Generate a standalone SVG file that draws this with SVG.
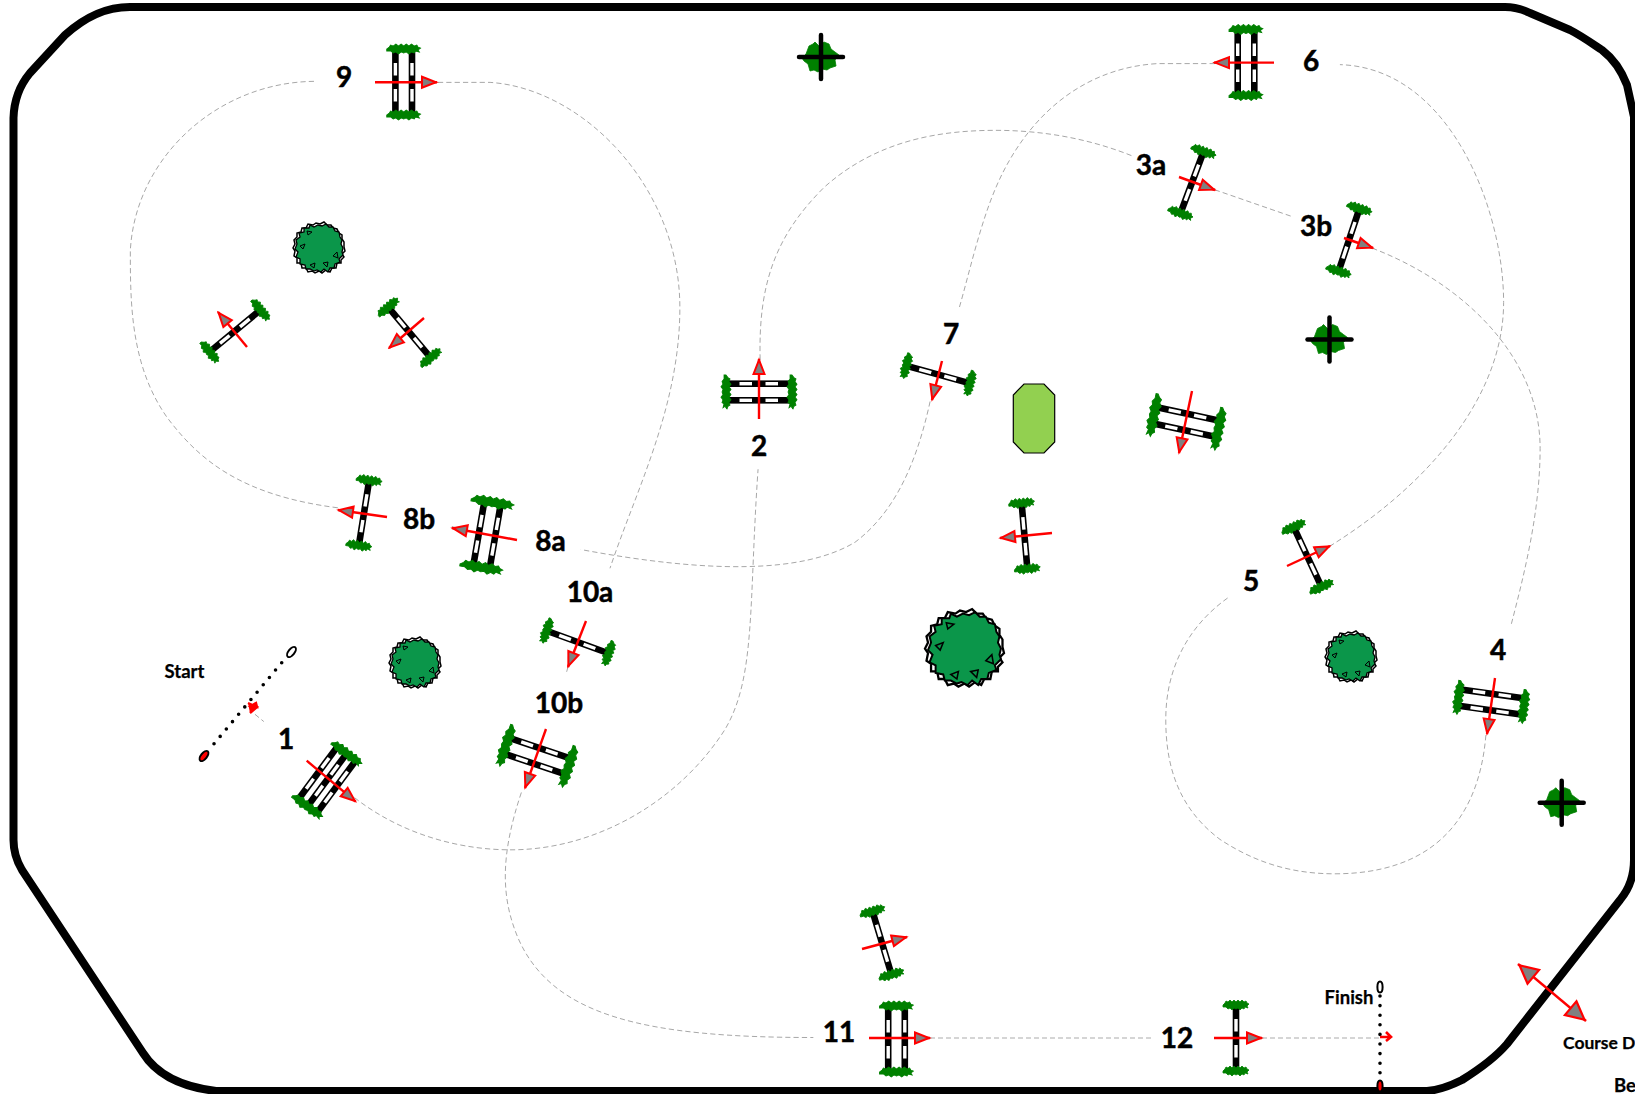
<svg xmlns="http://www.w3.org/2000/svg" width="1635" height="1094" viewBox="0 0 1635 1094">
<style>
.lbl{font-family:"Lato","Carlito","Liberation Sans",sans-serif;font-weight:700;font-size:28px;fill:#000;stroke:#000;stroke-width:.5;text-anchor:middle}
.sm{font-family:"Lato","Carlito","Liberation Sans",sans-serif;font-weight:700;fill:#000;stroke:#000;stroke-width:.25;font-size:18.5px}
.con{fill:none;stroke:#a6a6a6;stroke-width:.95;stroke-dasharray:5 3}
.arw{stroke:#f00;stroke-width:2.4;fill:none;marker-end:url(#ah)}
.dots{stroke:#000;stroke-width:3.6;stroke-linecap:round;stroke-dasharray:0 9.6;fill:none}
.grn{fill:#008000;stroke:#008000;stroke-width:.8}
.crs{stroke:#000;stroke-width:4.5;stroke-linecap:round}
</style>
<defs>
<marker id="ah" viewBox="-18 -8 20 16" refX="0" refY="0" markerWidth="20" markerHeight="16" markerUnits="userSpaceOnUse" orient="auto"><path d="M-15,-5.5 L-1,0 L-15,5.5Z" fill="#808080" stroke="#f00" stroke-width="2"/></marker>
<marker id="ahB" viewBox="-26 -12 28 24" refX="0" refY="0" markerWidth="28" markerHeight="24" markerUnits="userSpaceOnUse" orient="auto-start-reverse"><path d="M-20,-9 L-2,0 L-20,9Z" fill="#808080" stroke="#f00" stroke-width="2.2"/></marker>
<path id="blob" class="grn" d="M-13,0 L-11,-2 -10,-4 -8,-3 -6,-5 -4,-3 -2,-5 0,-3 2,-5 4,-3 6,-5 8,-3 10,-4 11,-2 13,-1 11,1 12,3 9,2 8,4 6,3 4,5 2,3 0,4 -2,3 -4,5 -6,3 -8,4 -10,2 -13,2Z"/>
<g id="rail"><rect x="-3.3" y="-31.5" width="6.6" height="63"/><rect x="-1.7" y="-19" width="3.4" height="12.5" fill="#fff"/><rect x="-1.7" y="7" width="3.4" height="12.5" fill="#fff"/></g>
<g id="single"><use href="#rail"/><use href="#blob" y="-33"/><use href="#blob" y="33"/></g>
<g id="double"><use href="#rail" x="-8.3"/><use href="#rail" x="8.3"/><use href="#blob" transform="translate(0,-33) scale(1.3,1)"/><use href="#blob" transform="translate(0,33) scale(1.3,1)"/></g>
<g id="doubleW"><use href="#rail" x="-8.3"/><use href="#rail" x="8.3"/><use href="#blob" transform="translate(0,-33) scale(1.65,1.1)"/><use href="#blob" transform="translate(0,33) scale(1.65,1.1)"/></g>
<g id="triple"><use href="#rail" x="-11.5"/><use href="#rail"/><use href="#rail" x="11.5"/><use href="#blob" transform="translate(0,-33) scale(1.4,1)"/><use href="#blob" transform="translate(0,33) scale(1.4,1)"/></g>
<g id="tree"><path d="M25,-1 L26,3 23,6 25,9 22,12 22,15 18,15 17,20 13,20 11,24 7,22 3,25 0,23 -4,25 -7,23 -11,24 -13,20 -17,20 -18,15 -22,15 -22,10 -25,8 -24,3 -26,0 -24,-4 -25,-8 -22,-11 -22,-15 -18,-16 -17,-20 -13,-20 -11,-24 -6,-23 -3,-25 1,-24 5,-26 8,-23 12,-23 14,-20 18,-19 20,-15 23,-13 23,-9 25,-6Z" fill="#fff" stroke="#000" stroke-width="1.5" stroke-linejoin="miter"/><path d="M24,0 L23,4 24,7 20,11 21,14 16,16 15,20 11,20 9,24 5,21 2,24 -2,22 -5,23 -9,21 -13,21 -14,17 -19,16 -19,11 -23,9 -21,4 -24,1 -22,-4 -23,-8 -19,-11 -20,-15 -15,-16 -15,-20 -10,-20 -9,-23 -5,-21 -1,-23 3,-22 7,-24 10,-21 14,-21 16,-17 20,-16 21,-11 23,-8 22,-4Z" fill="#0b964a" stroke="#000" stroke-width="1.3" stroke-linejoin="miter"/><path d="M-19,-2 L-14,-4 -16,1Z M14,8 L18,4 19,10Z M-9,17 L-4,15 -5,20Z M4,15 L9,14 8,19Z M-12,-17 L-7,-16 -11,-13Z" fill="#0b964a" stroke="#000" stroke-width="1"/></g>
<g id="cross"><path class="grn" d="M-19,1 L-15,-3 -12,-11 -8,-13 -6,-15 -2,-11 3,-15 8,-13 10,-8 14,-5 18,-2 14,3 15,9 9,11 6,13 1,12 -3,15 -7,13 -11,14 -13,7 -17,4Z"/><line class="crs" x1="-22" y1="0" x2="22" y2="0"/><line class="crs" x1="0" y1="-22" x2="0" y2="22"/></g>
</defs>
<rect width="1635" height="1094" fill="#fff"/>
<path id="arena" fill="none" stroke="#000" stroke-width="8" stroke-linejoin="round" d="M13.5,840 L13.5,118 C14,100 20,85 30,73 L65,35 C85,17 105,7 130,7 L1505,7 C1515,7 1522,9 1530,13 L1570,30 C1580,35 1590,42 1602,50 C1615,60 1622,72 1627,85 L1634,117 L1634,860 C1634,875 1630,888 1620,900 L1507,1044 C1495,1058 1478,1070 1462,1080 C1450,1086 1440,1090 1427,1091 L216,1091 C190,1088 160,1080 143,1053 L22,870 C16,860 13.5,852 13.5,840Z"/>
<g id="connectors">
<g transform="scale(1.04273)">
<path class="con" d="M244.5,685 L253,692"/>
<path class="con" d="M340,765 C385,800 440,815 490,815 C570,815 650,770 695,700 C725,650 718,580 727,450"/>
<path class="con" d="M729,345 C727,270 745,225 790,180 C840,135 900,125 955,125 C1000,125 1045,133 1087,150"/>
<path class="con" d="M1165,182 L1240,208"/>
<path class="con" d="M1316,238 C1400,270 1477,340 1477,430 C1477,490 1462,550 1449,600"/>
<path class="con" d="M1425,705 C1418,790 1370,838 1280,838 C1240,838 1205,828 1170,805 C1130,775 1118,735 1118,690 C1118,640 1140,600 1178,573"/>
<path class="con" d="M1275,524 C1370,465 1442,380 1442,290 C1442,200 1390,65 1285,62"/>
<path class="con" d="M1165,61 L1110,61 C1040,65 985,110 955,180 C940,215 930,260 920,295"/>
<path class="con" d="M892,385 C880,440 860,490 820,520 C770,550 680,550 557,527"/>
<path class="con" d="M446,508 L433,505"/>
<path class="con" d="M324,487 C230,475 190,440 160,400 C125,350 125,290 125,240 C130,150 210,78 303,78"/>
<path class="con" d="M420,79 L470,79 C560,85 652,180 652,295 C652,390 610,470 585,545"/>
<path class="con" d="M500,760 C480,820 480,860 497,900 C530,975 620,995 780,995"/>
</g>
<path class="con" d="M568,667 L566,674"/>
<path class="con" d="M930,1038 L1152,1038"/>
<path class="con" d="M1262,1038 L1381,1038"/>
</g>
<g id="start"><line class="dots" x1="281.7" y1="662.7" x2="213" y2="745"/><ellipse cx="291.5" cy="652" rx="6" ry="3" transform="rotate(-52 291.5 652)" fill="#fff" stroke="#000" stroke-width="2"/><ellipse cx="204" cy="756" rx="6" ry="3" transform="rotate(-52 204 756)" fill="#f00" stroke="#000" stroke-width="2"/><path d="M248,703 L257,707 L250,713 M257,707 L256,703 L251,706Z" fill="#f00" stroke="#f00" stroke-width="2.4"/><text class="sm" x="184.5" y="678" text-anchor="middle">Start</text></g>
<g id="finish"><line class="dots" x1="1380" y1="996" x2="1380" y2="1078"/><ellipse cx="1380" cy="987" rx="2.6" ry="5.5" fill="#fff" stroke="#000" stroke-width="2"/><ellipse cx="1380" cy="1086" rx="2.6" ry="5.5" fill="#f00" stroke="#000" stroke-width="2"/><path d="M1380,1037 L1390,1037 M1386,1032 L1391,1037 L1386,1041" fill="none" stroke="#f00" stroke-width="2.6"/><text class="sm" x="1349" y="1004" text-anchor="middle">Finish</text></g>
<g id="fence-1"><use href="#triple" transform="translate(327,780) rotate(36.5)"/><line class="arw" x1="306.7" y1="760.7" x2="355.7" y2="801.7"/><text class="lbl" x="286" y="749">1</text></g>
<g id="fence-2"><use href="#double" transform="translate(759,392) rotate(90)"/><line class="arw" x1="759" y1="419" x2="759" y2="359"/><text class="lbl" x="759" y="456">2</text></g>
<g id="fence-3a"><use href="#single" transform="translate(1192,182.5) rotate(20.5)"/><line class="arw" x1="1179" y1="177" x2="1215" y2="190"/><text class="lbl" x="1151" y="175">3a</text></g>
<g id="fence-3b"><use href="#single" transform="translate(1349,240) rotate(18.4)"/><line class="arw" x1="1344" y1="238" x2="1373" y2="248"/><text class="lbl" x="1316" y="236">3b</text></g>
<g id="fence-4"><use href="#double" transform="translate(1491,702) rotate(98)"/><line class="arw" x1="1495" y1="678" x2="1487" y2="734"/><text class="lbl" x="1498" y="660">4</text></g>
<g id="fence-5"><use href="#single" transform="translate(1307.6,557) rotate(-25)"/><line class="arw" x1="1287" y1="566" x2="1330" y2="546"/><text class="lbl" x="1251" y="591">5</text></g>
<g id="fence-6"><use href="#double" transform="translate(1246,62.5)"/><line class="arw" x1="1274" y1="62.6" x2="1214" y2="62.6"/><text class="lbl" x="1311" y="70.5">6</text></g>
<g id="fence-7"><use href="#single" transform="translate(938,374.5) rotate(105.3)"/><line class="arw" x1="942" y1="361" x2="932" y2="400"/><text class="lbl" x="951" y="344">7</text></g>
<g id="fence-8a"><use href="#doubleW" transform="translate(487,535) rotate(9.8)"/><line class="arw" x1="517" y1="540" x2="452" y2="528"/><text class="lbl" x="550.5" y="551">8a</text></g>
<g id="fence-8b"><use href="#single" transform="translate(364,513) rotate(9)"/><line class="arw" x1="387" y1="517" x2="338" y2="510"/><text class="lbl" x="419" y="529">8b</text></g>
<g id="fence-9"><use href="#double" transform="translate(403.7,82)"/><line class="arw" x1="375" y1="82.3" x2="437" y2="82.3"/><text class="lbl" x="344" y="87">9</text></g>
<g id="fence-10a"><use href="#single" transform="translate(577.5,642) rotate(110)"/><line class="arw" x1="586" y1="621" x2="568" y2="667"/><text class="lbl" x="590" y="602">10a</text></g>
<g id="fence-10b"><use href="#doubleW" transform="translate(537,756) rotate(108.7)"/><line class="arw" x1="546" y1="729" x2="525" y2="788"/><text class="lbl" x="559" y="713">10b</text></g>
<g id="fence-11"><use href="#double" transform="translate(896.5,1039)"/><line class="arw" x1="869" y1="1038" x2="930" y2="1038"/><text class="lbl" x="839" y="1042">11</text></g>
<g id="fence-12"><use href="#single" transform="translate(1236,1038)"/><line class="arw" x1="1214" y1="1038" x2="1262" y2="1038"/><text class="lbl" x="1177" y="1047.5">12</text></g>
<g id="fence-a"><use href="#single" transform="translate(235,331) rotate(50.4)"/><line class="arw" x1="247" y1="347" x2="218" y2="312"/></g>
<g id="fence-b"><use href="#single" transform="translate(409.5,332.5) rotate(-40)"/><line class="arw" x1="424" y1="318" x2="389" y2="348"/></g>
<g id="fence-c"><use href="#doubleW" transform="translate(1186,422) rotate(102)"/><line class="arw" x1="1192" y1="391" x2="1179" y2="453"/></g>
<g id="fence-d"><use href="#single" transform="translate(1024.5,536) rotate(-5)"/><line class="arw" x1="1052" y1="533" x2="1000" y2="538"/></g>
<g id="fence-e"><use href="#single" transform="translate(882,943) rotate(-16.7)"/><line class="arw" x1="862" y1="949" x2="907" y2="937"/></g>
<use id="tree-1" href="#tree" transform="translate(319,248)"/>
<use id="tree-2" href="#tree" transform="translate(415,663)"/>
<use id="tree-3" href="#tree" transform="translate(964.5,648.6) scale(1.52)"/>
<use id="tree-4" href="#tree" transform="translate(1351,657)"/>
<use id="cross-1" href="#cross" transform="translate(821,57)"/>
<use id="cross-2" href="#cross" transform="translate(1329.5,339.5)"/>
<use id="cross-3" href="#cross" transform="translate(1561.7,802.7)"/>
<polygon id="water" points="1024,384 1044,384 1054.7,395 1054.7,442 1044,453 1024,453 1013.3,442 1013.3,395" fill="#92d050" stroke="#000" stroke-width="1.2"/>
<g id="direction"><line x1="1518" y1="964" x2="1586" y2="1021" stroke="#f00" stroke-width="2.5" marker-start="url(#ahB)" marker-end="url(#ahB)"/><text class="sm" x="1563" y="1049" font-size="17.5" style="font-size:17.5px">Course D</text></g>
<text id="be" class="sm" x="1614" y="1092">Be</text>
</svg>
